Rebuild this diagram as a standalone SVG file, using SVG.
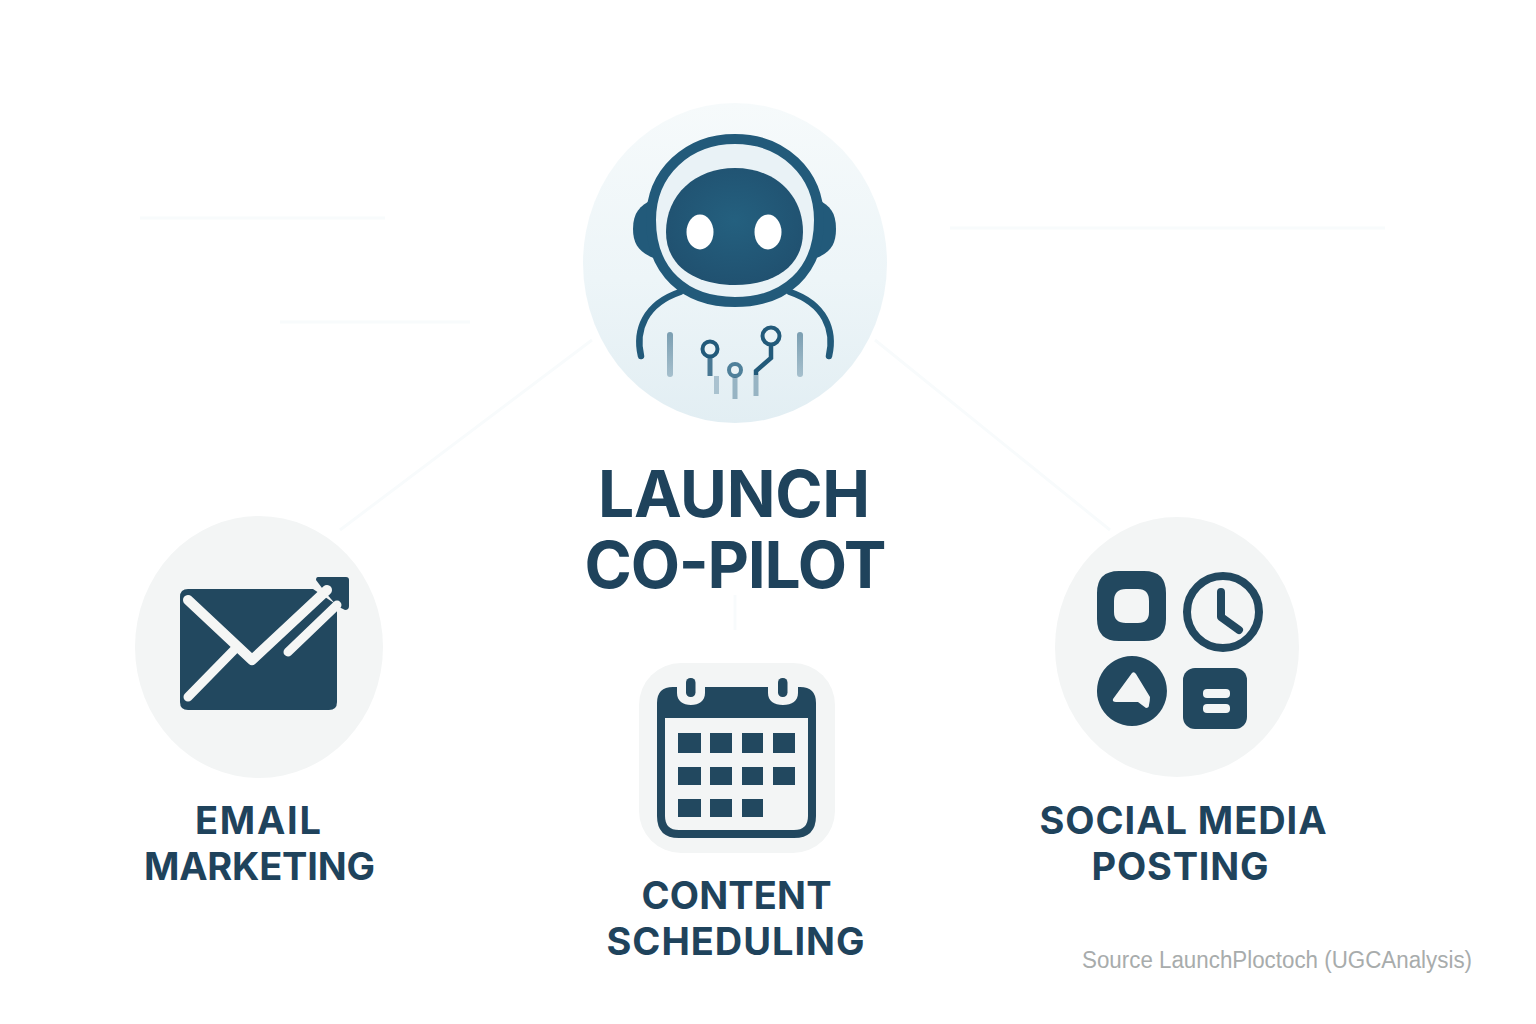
<svg xmlns="http://www.w3.org/2000/svg" width="1536" height="1024" viewBox="0 0 1536 1024">
<style>
.dark{fill:#22485f}
.wire{fill:none;stroke:#f8fbfc;stroke-width:3}
.t{font-family:"Inter","Liberation Sans",sans-serif;font-weight:700;fill:#1f435c;text-anchor:middle}
.big{font-size:64px}
.lab{font-size:38px}
.src{font-family:"Liberation Sans",sans-serif;font-size:23px;fill:#a8acac}
.halo{fill:#f3f5f5}
.cut{fill:none;stroke:#f5f6f5;stroke-linecap:round;stroke-linejoin:round}
.rb{fill:none;stroke:#225a7a;stroke-linecap:round;stroke-linejoin:round}
</style>
<defs>
<linearGradient id="bg" x1="0" y1="0" x2="0" y2="1">
<stop offset="0" stop-color="#f6fafb"/><stop offset="0.55" stop-color="#edf5f8"/><stop offset="1" stop-color="#e2eef3"/>
</linearGradient>
<linearGradient id="fade" gradientUnits="userSpaceOnUse" x1="0" y1="333" x2="0" y2="402">
<stop offset="0" stop-color="#225a7a" stop-opacity="0.55"/><stop offset="1" stop-color="#225a7a" stop-opacity="0.2"/>
</linearGradient>
<radialGradient id="face" cx="0.5" cy="0.45" r="0.6">
<stop offset="0" stop-color="#24607f"/><stop offset="1" stop-color="#20506f"/>
</radialGradient>
</defs>
<rect width="1536" height="1024" fill="#ffffff"/>
<g id="connectors">
<path class="wire" d="M592 340L340 530"/>
<path class="wire" d="M875 340L1110 530"/>
<path class="wire" d="M735 595V630"/>
<path class="wire" d="M140 218H385"/>
<path class="wire" d="M280 322H470"/>
<path class="wire" d="M950 228H1385"/>
</g>
<g id="launch-co-pilot">
<ellipse cx="735" cy="263" rx="152" ry="160" fill="url(#bg)"/>
<path class="rb" stroke-width="6.500" d="M641 356C635 330 645 304 680 292"/>
<path class="rb" stroke-width="6.500" d="M829 356C835 330 825 304 790 292"/>
<path fill="#225a7a" d="M652 200C640 205 633 213 633 229C633 245 640 253 656 259Z"/>
<path fill="#225a7a" d="M818 200C830 205 836 213 836 229C836 245 830 253 814 259Z"/>
<path fill="#e9f2f6" stroke="#225a7a" stroke-width="10" d="M735 139C782 139 819 172 819 220C819 272 785 302 735 302C685 302 651 272 651 220C651 172 688 139 735 139Z"/>
<path fill="url(#face)" d="M735 168C775 168 803 195 803 232C803 268 772 285 735 285C698 285 666 268 666 232C666 195 695 168 735 168Z"/>
<ellipse cx="700" cy="232" rx="13.500" ry="17.500" fill="#ffffff"/>
<ellipse cx="768" cy="232" rx="13.500" ry="17.500" fill="#ffffff"/>
<path stroke="url(#fade)" fill="none" stroke-width="6" stroke-linecap="round" d="M670 335V374"/>
<path stroke="url(#fade)" fill="none" stroke-width="6" stroke-linecap="round" d="M800 335V374"/>
<circle cx="710" cy="349" r="7.500" fill="#eaf3f6" stroke="#225a7a" stroke-width="4"/>
<path stroke="#225a7a" stroke-opacity="0.8" fill="none" stroke-width="5" d="M710 357V376"/>
<path stroke="#225a7a" stroke-opacity="0.3" fill="none" stroke-width="5" d="M716.500 376V394"/>
<circle cx="735" cy="370" r="6" fill="#eaf3f6" stroke="#4f809a" stroke-width="4"/>
<path stroke="#225a7a" stroke-opacity="0.4" fill="none" stroke-width="5" d="M735 377V399"/>
<circle cx="771" cy="336" r="8.500" fill="#eaf3f6" stroke="#225a7a" stroke-width="4"/>
<path stroke="#225a7a" fill="none" stroke-width="4.500" d="M771 345V358L756 371V375"/>
<path stroke="#225a7a" stroke-opacity="0.4" fill="none" stroke-width="5" d="M756 375V396"/>
<text class="t big" x="734" y="517" textLength="272">LAUNCH</text>
<text class="t big" x="735.500" y="588" textLength="302">CO-PILOT</text>
</g>
<g id="email-marketing">
<ellipse class="halo" cx="259" cy="647" rx="124" ry="131"/>
<path class="dark" d="M188 589H313L337 605V702Q337 710 329 710H188Q180 710 180 702V597Q180 589 188 589Z"/>
<path class="dark" d="M318 577H346Q349 577 349 580V606Q349 610 345 610L337 606L325 592L316 580Q316 577 318 577Z"/>
<path class="cut" stroke-width="10" d="M188 600L252 660L327 590"/>
<path class="cut" stroke-width="9" d="M188 697L234 650"/>
<path class="cut" stroke-width="9" d="M288 652L337 605"/>
<text class="t lab" x="258" y="834" textLength="126">EMAIL</text>
<text class="t lab" x="259.500" y="880" textLength="231">MARKETING</text>
</g>
<g id="content-scheduling">
<rect class="halo" x="639" y="663" width="196" height="190" rx="42"/>
<path d="M661 712V816Q661 834 679 834H794Q812 834 812 816V712Z" fill="#f3f5f5" stroke="#22485f" stroke-width="8"/>
<path class="dark" d="M657 718V703Q657 687 673 687H677V693C677 701 683 705 691 705C699 705 705 701 705 693V687H768V693C768 701 774 705 783 705C792 705 798 701 798 693V687H800Q816 687 816 703V718Z"/>
<rect class="dark" x="686" y="678" width="9.500" height="19" rx="4.500"/>
<rect class="dark" x="778" y="678" width="9.500" height="19" rx="4.500"/>
<g class="dark">
<rect x="678" y="733" width="23" height="20"/><rect x="710" y="733" width="22" height="20"/><rect x="742" y="733" width="21" height="20"/><rect x="773" y="733" width="22" height="20"/>
<rect x="678" y="767" width="23" height="18"/><rect x="710" y="767" width="22" height="18"/><rect x="742" y="767" width="21" height="18"/><rect x="773" y="767" width="22" height="18"/>
<rect x="678" y="799" width="23" height="18"/><rect x="710" y="799" width="22" height="18"/><rect x="742" y="799" width="21" height="18"/>
</g>
<text class="t lab" x="736.500" y="909" textLength="190">CONTENT</text>
<text class="t lab" x="735.500" y="955" textLength="258">SCHEDULING</text>
</g>
<g id="social-media-posting">
<ellipse class="halo" cx="1177" cy="647" rx="122" ry="130"/>
<path fill-rule="evenodd" class="dark" d="M1119 571H1144Q1166 571 1166 593V619Q1166 641 1144 641H1119Q1097 641 1097 619V593Q1097 571 1119 571ZM1126 589Q1114 589 1114 601V612Q1114 623 1126 623H1138Q1149 623 1149 612V601Q1149 589 1138 589Z"/>
<circle cx="1223" cy="612" r="36" fill="none" stroke="#22485f" stroke-width="8"/>
<path fill="none" stroke="#22485f" stroke-width="8" stroke-linecap="round" stroke-linejoin="round" d="M1221 592V617L1239 630"/>
<path fill-rule="evenodd" class="dark" d="M1132 656A35 35 0 1 1 1131.900 656ZM1132 673L1113 699Q1112 702 1116 702H1138L1146 708Q1149 708 1149 705Q1150 700 1150 697L1136 674Q1134 671 1132 673Z"/>
<rect class="dark" x="1183" y="668" width="64" height="61" rx="12"/>
<rect x="1203" y="689" width="27" height="9" rx="4" fill="#f3f5f5"/>
<rect x="1203" y="704" width="27" height="9" rx="4" fill="#f3f5f5"/>
<text class="t lab" x="1183" y="834" textLength="287">SOCIAL MEDIA</text>
<text class="t lab" x="1180" y="880" textLength="177">POSTING</text>
</g>
<text class="src" x="1082" y="968" textLength="390" lengthAdjust="spacingAndGlyphs">Source LaunchPloctoch (UGCAnalysis)</text>
</svg>
